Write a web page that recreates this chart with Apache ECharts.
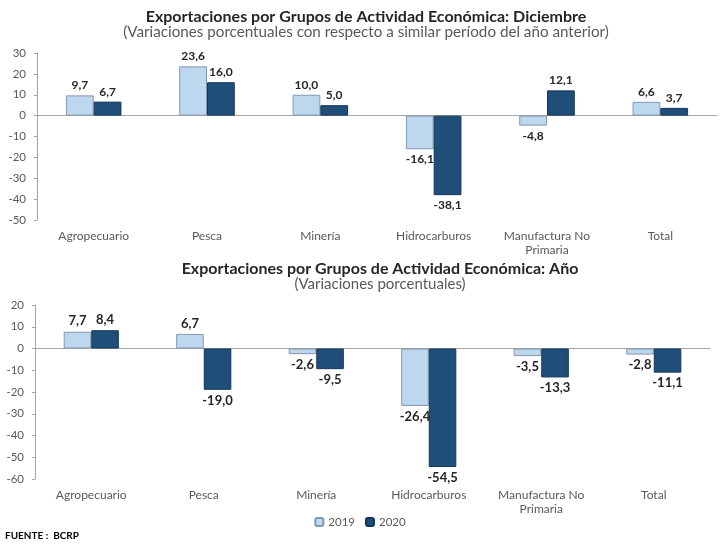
<!DOCTYPE html>
<html>
<head>
<meta charset="utf-8">
<script src="https://cdn.jsdelivr.net/npm/echarts@6/dist/echarts.min.js"></script>
<style>
html,body{margin:0;padding:0;background:#fff;}
#chart{width:720px;height:545px;}
</style>
</head>
<body>
<div id="chart"></div>
<script>
var categories = ['Agropecuario', 'Pesca', 'Minería', 'Hidrocarburos', 'Manufactura No\nPrimaria', 'Total'];
var dic2019 = [9.7, 23.6, 10.0, -16.1, -4.8, 6.6];
var dic2020 = [6.7, 16.0, 5.0, -38.1, 12.1, 3.7];
var anio2019 = [7.7, 6.7, -2.6, -26.4, -3.5, -2.8];
var anio2020 = [8.4, -19.0, -9.5, -54.5, -13.3, -11.1];
var seriesNames = ['2019', '2020'];
var title1 = 'Exportaciones por Grupos de Actividad Económica: Diciembre';
var sub1 = '(Variaciones porcentuales con respecto a similar período del año anterior)';
var title2 = 'Exportaciones por Grupos de Actividad Económica: Año';
var sub2 = '(Variaciones porcentuales)';
var sourceText = 'FUENTE :  BCRP';

var FONT = 'Lato';
var LIGHT = '#bdd7ee', LIGHT_B = '#8497b0';
var DARK = '#1f4e79', DARK_B = '#14365a';

function fmt(v){ return v.toFixed(1).replace('.', ','); }
function items(arr){
  return arr.map(function(v){
    return { value: v, label: { position: v < 0 ? 'bottom' : 'top' } };
  });
}
function barSeries(name, arr, idx, light, fs){
  return {
    name: name, type: 'bar', xAxisIndex: idx, yAxisIndex: idx,
    data: items(arr),
    barGap: '0%', barCategoryGap: '51%',
    itemStyle: { color: light ? LIGHT : DARK, borderColor: light ? LIGHT_B : DARK_B, borderWidth: 1 },
    label: { show: true, distance: 4, fontFamily: FONT, fontWeight: 'bold', fontSize: fs, color: '#262626',
      formatter: function(p){ return fmt(p.value); } },
    emphasis: { disabled: true }
  };
}
var axisText = { color: '#595959', fontFamily: FONT };
function xAx(idx){
  return { type: 'category', gridIndex: idx, data: categories,
    axisLine: { onZero: true, lineStyle: { color: '#a6a6a6' } },
    axisTick: { show: false },
    axisLabel: Object.assign({ interval: 0, margin: 9, lineHeight: 14, fontSize: 12 }, axisText)
  };
}
function yAx(idx, mn, mx){
  return { type: 'value', gridIndex: idx, min: mn, max: mx, interval: 10,
    axisLine: { show: true, lineStyle: { color: '#a6a6a6' } },
    axisTick: { show: true, length: 3, lineStyle: { color: '#a6a6a6' } },
    splitLine: { show: false },
    axisLabel: Object.assign({ margin: 11, fontSize: 11.5 }, axisText)
  };
}

var chart = echarts.init(document.getElementById('chart'), null, { renderer: 'canvas' });
chart.setOption({
  animation: false,
  backgroundColor: '#fff',
  title: [
    { text: title1, subtext: sub1, left: 361, top: 4, textAlign: 'center', itemGap: 0,
      textStyle: { fontFamily: FONT, fontWeight: 'bold', fontSize: 16, color: '#262626' },
      subtextStyle: { fontFamily: FONT, fontSize: 15.2, color: '#595959' } },
    { text: title2, subtext: sub2, left: 375, top: 256, textAlign: 'center', itemGap: 0,
      textStyle: { fontFamily: FONT, fontWeight: 'bold', fontSize: 16, color: '#262626' },
      subtextStyle: { fontFamily: FONT, fontSize: 15, color: '#595959' } }
  ],
  legend: {
    data: seriesNames, left: 'center', top: 511, itemWidth: 8, itemHeight: 8, itemGap: 10,
    textStyle: { fontFamily: FONT, fontSize: 11.5, color: '#595959' }, selectedMode: false
  },
  grid: [
    { left: 37, right: 3, top: 53, height: 167 },
    { left: 35, right: 10, top: 305, height: 174 }
  ],
  xAxis: [ xAx(0), xAx(1) ],
  yAxis: [ yAx(0, -50, 30), yAx(1, -60, 20) ],
  series: [
    barSeries(seriesNames[0], dic2019, 0, true, 12),
    barSeries(seriesNames[1], dic2020, 0, false, 12),
    barSeries(seriesNames[0], anio2019, 1, true, 13),
    barSeries(seriesNames[1], anio2020, 1, false, 13)
  ],
  graphic: [
    { type: 'text', left: 5, top: 531, style: { text: sourceText, fontFamily: FONT, fontWeight: 'bold', fontSize: 10, fill: '#000' } }
  ]
});
</script>
</body>
</html>
